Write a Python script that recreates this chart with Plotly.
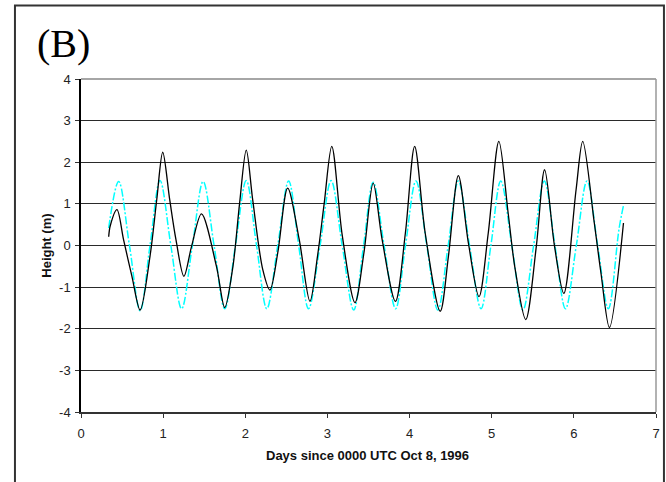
import plotly.graph_objects as go

# Observed water level (black solid)
obs_days = [0.337, 0.357, 0.438, 0.518, 0.62, 0.72, 0.84, 0.922, 0.995, 1.08, 1.156, 1.253,
            1.346, 1.467, 1.649, 1.75, 1.85, 1.93, 2.012, 2.09, 2.213, 2.30, 2.395, 2.516,
            2.657, 2.787, 2.879, 2.96, 3.053, 3.18, 3.335, 3.444, 3.557, 3.666, 3.828, 3.949,
            4.062, 4.19, 4.373, 4.473, 4.594, 4.716, 4.845, 4.958, 5.087, 5.2, 5.28, 5.414,
            5.543, 5.644, 5.765, 5.878, 6.027, 6.108, 6.249, 6.33, 6.433, 6.604]
obs_height = [0.21, 0.48, 0.86, 0.14, -0.74, -1.55, -0.26, 1.1, 2.24, 1.10, 0.14, -0.74,
              -0.02, 0.76, -0.5, -1.49, -0.5, 1.0, 2.29, 1.1, -0.58, -1.07, -0.18, 1.38,
              0.14, -1.34, -0.26, 1.0, 2.38, 0.25, -1.37, -0.18, 1.50, 0.14, -1.34, 0.30,
              2.38, 0.3, -1.58, -0.26, 1.68, 0.06, -1.23, 0.3, 2.50, 0.78, -0.5, -1.78,
              -0.02, 1.82, -0.02, -1.15, 1.34, 2.50, 0.54, -0.66, -1.97, 0.54]

# Predicted tide (cyan dash-dot)
pred_days = [0.337, 0.458, 0.59, 0.72, 0.84, 0.962, 1.094, 1.225, 1.356, 1.487, 1.62, 1.75,
             1.88, 2.012, 2.137, 2.262, 2.395, 2.528, 2.65, 2.77, 2.91, 3.045, 3.18, 3.32,
             3.44, 3.557, 3.69, 3.83, 3.95, 4.078, 4.21, 4.344, 4.47, 4.594, 4.73, 4.87,
             4.99, 5.11, 5.245, 5.38, 5.51, 5.64, 5.77, 5.898, 6.03, 6.16, 6.29, 6.42,
             6.55, 6.604]
pred_height = [0.42, 1.54, 0.0, -1.57, 0.0, 1.56, 0.0, -1.52, 0.0, 1.54, 0.0, -1.52,
               0.0, 1.56, 0.0, -1.52, 0.0, 1.55, 0.0, -1.52, 0.0, 1.56, 0.0, -1.55,
               0.0, 1.52, 0.0, -1.52, 0.0, 1.55, 0.0, -1.55, 0.0, 1.55, 0.0, -1.52,
               0.0, 1.55, 0.0, -1.55, 0.0, 1.55, 0.0, -1.52, 0.0, 1.55, 0.0, -1.52,
               0.4, 0.96]

x_ticks = [0, 1, 2, 3, 4, 5, 6, 7]
x_tick_labels = ["0", "1", "2", "3", "4", "5", "6", "7"]
y_ticks = [-4, -3, -2, -1, 0, 1, 2, 3, 4]
y_tick_labels = ["-4", "-3", "-2", "-1", "0", "1", "2", "3", "4"]

panel_label = "(B)"
x_title = "Days since 0000 UTC Oct 8, 1996"
y_title = "Height (m)"

fig = go.Figure()
fig.add_trace(go.Scatter(x=pred_days, y=pred_height, mode="lines",
                         line=dict(color="#00FFFF", width=1.5, dash="8px,2px,2px,2px", shape="spline", smoothing=1),
                         showlegend=False))
fig.add_trace(go.Scatter(x=obs_days, y=obs_height, mode="lines",
                         line=dict(color="#000000", width=1.3, shape="spline", smoothing=0.9),
                         showlegend=False))

font_family = "Liberation Sans, Arial, sans-serif"

fig.update_layout(
    width=666, height=482,
    margin=dict(l=81, r=6, t=79, b=70, pad=0),
    paper_bgcolor="white", plot_bgcolor="white",
    font=dict(family=font_family, size=13, color="black"),
    xaxis=dict(range=[0, 7], tickvals=x_ticks, ticktext=x_tick_labels, ticks="outside", ticklen=4,
               tickcolor="#333", showline=True, linecolor="#333", linewidth=1.5, showgrid=False,
               zeroline=False, tickfont=dict(size=13, color="#222"), ticklabelstandoff=5),
    yaxis=dict(range=[-4, 4], tickvals=y_ticks, ticktext=y_tick_labels, ticks="outside", ticklen=4,
               tickcolor="#333", showline=True, linecolor="#000", linewidth=1.5, showgrid=True,
               gridcolor="#2a2a2a", gridwidth=1, zeroline=False,
               tickfont=dict(size=13, color="#222"), ticklabelstandoff=2),
    shapes=[
        dict(type="line", xref="paper", yref="paper", x0=0, x1=1, y0=1, y1=1,
             line=dict(color="#888", width=1.5)),
        dict(type="line", xref="paper", yref="paper", x0=1, x1=1, y0=0, y1=1,
             line=dict(color="#999", width=1.5)),
        dict(type="rect", xref="paper", yref="paper", x0=(14.5 - 81) / 579, x1=(668 - 81) / 579,
             y0=(412 - 486) / 333, y1=(412 - 5.5) / 333, line=dict(color="#333", width=2),
             fillcolor="rgba(0,0,0,0)", layer="below"),
    ],
    annotations=[
        dict(text=panel_label, xref="paper", yref="paper", x=(63.5 - 81) / 579, y=(412 - 43) / 333,
             xanchor="center", yanchor="middle", showarrow=False,
             font=dict(family="Liberation Serif, Times New Roman, serif", size=40, color="black")),
        dict(text="<b>" + x_title + "</b>", xref="paper", yref="paper", x=(369.7 - 81) / 579,
             y=(412 - 455) / 333, xanchor="center", yanchor="middle", showarrow=False,
             font=dict(size=13, color="#111")),
        dict(text="<b>" + y_title + "</b>", xref="paper", yref="paper", x=(46 - 81) / 579,
             y=0.5, xanchor="center", yanchor="middle", textangle=-90, showarrow=False,
             font=dict(size=13, color="#111")),
    ],
)

fig.write_html("out.html")
